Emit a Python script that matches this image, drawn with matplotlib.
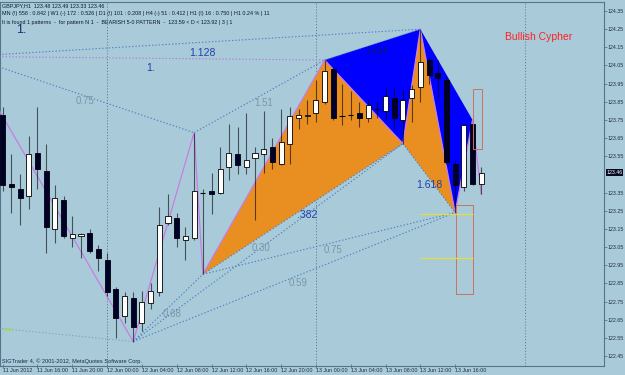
"""GBPJPY H1 chart with a harmonic (Cypher / 5-0) pattern overlay, MT4 style.
"""
import matplotlib.pyplot as plt
from matplotlib.patches import Polygon, Rectangle
from matplotlib import transforms

# ---- data -----------------------------------------------------------------
opens = [123.78, 123.40, 123.37, 123.33, 123.57, 123.47, 123.15, 123.31, 123.10, 123.11,
         123.13, 123.04, 122.98, 122.82, 122.67, 122.77, 122.63, 122.74, 122.80, 123.18,
         123.21, 123.09, 123.10, 123.35, 123.36, 123.35, 123.49, 123.56, 123.49, 123.54,
         123.56, 123.60, 123.51, 123.62, 123.76, 123.77, 123.79, 123.85, 124.03, 123.77,
         123.78, 123.79, 123.76, 123.81, 123.80, 123.87, 123.75, 123.87, 123.93, 124.08,
         124.01, 123.97, 123.51, 123.38, 123.73, 123.40]
highs = [123.82, 123.56, 123.45, 123.66, 123.82, 123.62, 123.39, 123.33, 123.22, 123.13,
         123.15, 123.06, 123.02, 122.83, 122.80, 122.80, 122.81, 122.85, 123.27, 123.34,
         123.24, 123.16, 123.68, 123.37, 123.46, 123.60, 123.73, 123.71, 123.79, 123.60,
         123.80, 123.65, 123.81, 123.82, 123.81, 123.86, 123.97, 124.08, 124.04, 123.95,
         123.91, 123.85, 123.86, 123.85, 123.93, 123.93, 123.92, 123.94, 124.25, 124.09,
         124.08, 123.99, 123.53, 123.73, 123.75, 123.49]
lows = [123.36, 123.24, 123.17, 123.26, 123.37, 123.02, 123.07, 123.10, 123.05, 122.99,
        123.02, 122.92, 122.78, 122.55, 122.63, 122.53, 122.59, 122.71, 122.78, 123.17,
        123.05, 122.98, 123.09, 122.90, 123.23, 123.34, 123.42, 123.45, 123.45, 123.20,
        123.46, 123.48, 123.50, 123.51, 123.70, 123.73, 123.74, 123.84, 123.75, 123.72,
        123.75, 123.71, 123.74, 123.76, 123.75, 123.70, 123.62, 123.74, 123.85, 123.95,
        123.87, 123.51, 123.24, 123.36, 123.39, 123.34]
closes = [123.39, 123.38, 123.32, 123.56, 123.48, 123.16, 123.32, 123.11, 123.12, 123.12,
          123.03, 122.99, 122.80, 122.66, 122.78, 122.61, 122.75, 122.81, 123.17, 123.22,
          123.10, 123.11, 123.36, 123.35, 123.34, 123.48, 123.57, 123.50, 123.53, 123.57,
          123.59, 123.52, 123.63, 123.77, 123.78, 123.78, 123.86, 124.02, 123.76, 123.77,
          123.78, 123.76, 123.83, 123.81, 123.88, 123.76, 123.86, 123.92, 124.07, 124.00,
          123.98, 123.52, 123.39, 123.72, 123.40, 123.46]
last_price = 123.46

# zigzag swing points (bar index, price)
zz_bars = [-4, 15, 22, 23, 37, 46, 48, 52, 54, 55]
zz_prices = [124.10, 122.53, 123.68, 122.90, 124.08, 123.62, 124.25, 123.24, 123.75, 123.34]

# pattern points X A B C D E
pat_bars = {'X': 23, 'A': 37, 'B': 46, 'C': 48, 'D': 52, 'E': 54}
pat_prices = {'X': 122.90, 'A': 124.08, 'B': 123.62, 'C': 124.25, 'D': 123.24, 'E': 123.75}

# retracement lines: (bar1, price1, bar2, price2, label)
ratio_lines = [
    (-4, 124.10, 22, 123.68, '0.75'),
    (15, 122.53, 23, 122.90, '0.68'),
    (22, 123.68, 37, 124.08, '1.51'),
    (15, 122.53, 46, 123.62, '0.30'),
    (23, 122.90, 52, 123.24, '0.75'),
    (15, 122.53, 52, 123.24, '0.59'),
]
pattern_lines = [
    (23, 122.90, 46, 123.62, '.382'),
    (37, 124.08, 48, 124.25, '1.414'),
    (46, 123.62, 52, 123.24, '1.618'),
    (-4, 124.10, 48, 124.25, '1.128'),
]
top_line = (-4, 124.10, 37, 124.08, '1.')
low_line = (-2, 122.61, 15, 122.53)

# potential reversal zones (bar from, bar to, price low, price high)
zones = [(54.0, 55.06, 123.59, 123.92), (52.07, 54.09, 122.79, 123.28)]
yellow_levels = [123.23, 122.99]
yellow_span = (48, 54)

day_breaks = [12, 36, 60]
xtick_bars = list(range(0, 56, 4))
xtick_labels = ['11 Jun 2012', '11 Jun 16:00', '11 Jun 20:00', '12 Jun 00:00', '12 Jun 04:00',
                '12 Jun 08:00', '12 Jun 12:00', '12 Jun 16:00', '12 Jun 20:00', '13 Jun 00:00',
                '13 Jun 04:00', '13 Jun 08:00', '13 Jun 12:00', '13 Jun 16:00']
ytick_prices = [124.35, 124.25, 124.15, 124.05, 123.95, 123.85, 123.75, 123.65, 123.55,
                123.35, 123.25, 123.15, 123.05, 122.95, 122.85, 122.75, 122.65, 122.55, 122.45]

header = ['GBPJPY,H1  123.48 123.49 123.33 123.46',
          'MN (!) 558 : 0.842 | W1 (-) 172 : 0.526 | D1 (!) 101 : 0.208 | H4 (-) 51 : 0.412 | '
          'H1 (!) 16 : 0.750 | H1 0.24 % | 11',
          'It is found 1 patterns  -  for pattern N 1  -  BEARISH 5-0 PATTERN  -  '
          '123.59 < D < 123.92 | 3 | 1']

# ---- style ----------------------------------------------------------------
BG = '#a9cbd9'
FRAME = '#56758d'
ORANGE = '#e98f22'
BLUE = '#0000ff'
ZIGZAG = '#c67de6'
DOT = '#4d7fc4'
SANS = ['Liberation Sans', 'DejaVu Sans']
dotted = (0, (1.2, 1.8))

fig = plt.figure(figsize=(6.25, 3.75), dpi=100, facecolor=BG)
ax = fig.add_axes([0, 9 / 375, 604 / 625, 364 / 375])
ax.set_facecolor(BG)
ax.set_xlim(-0.31, 69.11)
ax.set_ylim(122.3952, 124.3996)

for x in day_breaks:
    ax.axvline(x, color='#5f7f99', lw=0.7, ls=dotted, zorder=1)


def tri(a, b, c, color):
    pts = [(pat_bars[k], pat_prices[k]) for k in (a, b, c)]
    ax.add_patch(Polygon(pts, closed=True, facecolor=color, edgecolor='none', zorder=2))


tri('X', 'A', 'B', ORANGE)
tri('A', 'B', 'C', BLUE)
tri('B', 'C', 'D', ORANGE)
tri('C', 'D', 'E', BLUE)

# retracement lines, label a bit below the middle
ratio_offsets = {'0.30': (-5, -4)}
for b1, p1, b2, p2, lab in ratio_lines:
    ax.plot([b1, b2], [p1, p2], color=DOT, lw=0.8, ls=dotted, zorder=3)
    ax.annotate(lab, ((b1 + b2) / 2, (p1 + p2) / 2), xytext=ratio_offsets.get(lab, (3, -4.5)),
                textcoords='offset points', ha='center', va='center', fontsize=7,
                color='#7d95a6', family=SANS, zorder=3)

pattern_offsets = {'.382': (3.2, -4.3), '1.414': (3, -4), '1.618': (0, -5), '1.128': (6, -7)}
for b1, p1, b2, p2, lab in pattern_lines:
    ax.plot([b1, b2], [p1, p2], color=DOT, lw=0.8, ls=dotted, zorder=3)
    size = 6.5 if lab == '1.414' else 7.5
    col = '#141c48' if lab == '1.414' else '#2140a8'
    ax.annotate(lab, ((b1 + b2) / 2, (p1 + p2) / 2), xytext=pattern_offsets[lab],
                textcoords='offset points', ha='center', va='center', fontsize=size,
                color=col, family=SANS, zorder=8)
b1, p1, b2, p2, lab = top_line
ax.plot([b1, b2], [p1, p2], color='#b07ad8', lw=0.8, ls=dotted, zorder=3)
ax.annotate(lab, ((b1 + b2) / 2, (p1 + p2) / 2), xytext=(3, -7), textcoords='offset points',
            ha='center', va='center', fontsize=7.5, color='#2140a8', family=SANS)
b1, p1, b2, p2 = low_line
ax.plot([b1, b2], [p1, p2], color='#8a9ec8', lw=0.8, ls=dotted, zorder=3)

# zigzag
ax.plot(zz_bars, zz_prices, color=ZIGZAG, lw=0.9, zorder=4)

# candles
for i, (o, h, l, c) in enumerate(zip(opens, highs, lows, closes)):
    ax.vlines(i, l, h, color=(0, 0, 0, 0.6), lw=0.8, zorder=5)
    if o == c:
        ax.hlines(o, i - 0.3, i + 0.3, color='black', lw=0.8, zorder=6)
        continue
    face = 'white' if c > o else '#00002a'
    ax.add_patch(Rectangle((i - 0.29, min(o, c)), 0.58, abs(c - o), facecolor=face,
                           edgecolor='black', lw=0.6, zorder=6))

# zones and levels
for b1, b2, lo, hi in zones:
    ax.add_patch(Rectangle((b1, lo), b2 - b1, hi - lo, facecolor='none',
                           edgecolor='#c8735c', lw=0.7, zorder=7))
ax.hlines(yellow_levels, *yellow_span, color='#e6dc3a', lw=0.9, zorder=7)

# texts
for k, line in enumerate(header):
    ax.text(0.004, 1 - (3.5 + 8.4 * k) / 364, line, transform=ax.transAxes, fontsize=3.9,
            family=SANS, color='#0c1830', va='center', ha='left')
ax.text(0.026, 1 - 28 / 364, '1.', transform=ax.transAxes, fontsize=9, color='#1b2a70',
        family=SANS, va='center')
ax.text(0.836, 1 - 35 / 364, 'Bullish Cypher', transform=ax.transAxes, fontsize=7.5,
        color='#ff2020', family=SANS, va='center')
ax.text(0.005, 1 - 329 / 364, '1.05', transform=ax.transAxes, fontsize=3.8,
        color='#b0e020', family=SANS, va='center')
ax.text(0.004, 5 / 364, 'SIGTrader 4, \u00a9 2001-2012, MetaQuotes Software Corp.',
        transform=ax.transAxes, fontsize=4.1, family=SANS, color='#1a2a40', va='center')

# axes
for s in ax.spines.values():
    s.set_color(FRAME)
    s.set_linewidth(0.8)
ax.yaxis.tick_right()
ax.set_yticks(ytick_prices)
ax.set_yticklabels(['%.2f' % p for p in ytick_prices])
ax.tick_params(axis='y', length=2, width=0.6, color=FRAME, pad=0.6, labelsize=3.8,
               labelcolor='#1e2e40')
ax.set_xticks(xtick_bars)
ax.set_xticklabels(xtick_labels)
ax.tick_params(axis='x', length=2.5, width=0.6, color=FRAME, pad=0.5, labelsize=3.9,
               labelcolor='#1e2e40', direction='inout')
for lbl in ax.get_yticklabels() + ax.get_xticklabels():
    lbl.set_family(SANS)
for lbl in ax.get_xticklabels():
    lbl.set_ha('left')

trans = transforms.blended_transform_factory(ax.transAxes, ax.transData)
ax.text(1.004, last_price, '%.2f' % last_price, transform=trans, fontsize=3.8, family=SANS,
        color='white', va='center', ha='left',
        bbox=dict(boxstyle='square,pad=0.15', facecolor='#050a20', edgecolor='none'))

fig.savefig('out.png', dpi=100, facecolor=BG)
